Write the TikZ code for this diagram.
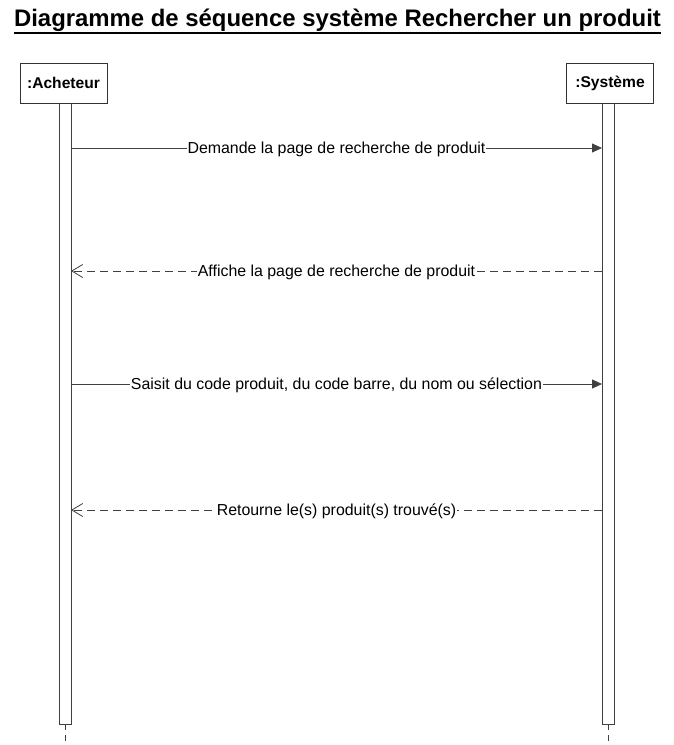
\documentclass[tikz,border=0pt]{standalone}
\usepackage{fontspec}
\setmainfont{Liberation Sans}
\usetikzlibrary{arrows.meta}
\tikzset{
  x=1pt,y=-1pt,
  linecol/.style={draw=black!75, line width=0.8pt},
  actor/.style={draw=black!80, line width=0.8pt, fill=white, minimum width=87pt, minimum height=40pt, inner sep=0pt, font=\fontsize{15.6}{18}\selectfont\bfseries},
  actbar/.style={draw=black!75, line width=0.8pt, fill=white},
  lifeln/.style={draw=black!75, line width=0.8pt, dash pattern=on 6pt off 5pt},
  syncmsg/.style={linecol, -{Triangle[length=10pt,width=9pt]}},
  retmsg/.style={linecol, dash pattern=on 8pt off 5pt, -{Straight Barb[length=11pt,width=13pt]}},
  msglbl/.style={fill=white, inner sep=1pt, yshift=-1.5pt, font=\fontsize{15.9}{18}\selectfont}
}
\begin{document}
\begin{tikzpicture}
\useasboundingbox (0,0) rectangle (674,745);
\fill[white] (0,0) rectangle (674,745);
\node[font=\fontsize{23.9}{28}\selectfont\bfseries, inner sep=0pt] (title) at (337.5,20) {Diagramme de séquence système Rechercher un produit};
\draw[line width=2pt] (title.west |- 0,33) -- (title.east |- 0,33);
% lifelines
\draw[lifeln] (65,724) -- (65,745);
\draw[lifeln] (608,724) -- (608,745);
\draw[actbar] (59,102) rectangle (71,724);
\draw[actbar] (602,102) rectangle (614,724);
\node[actor] (ach) at (63.5,83) {:Acheteur};
\node[actor] (sys) at (610,83) {:Système};
% anchor coordinates
\coordinate (a1) at (71,148); \coordinate (s1) at (602,148);
\coordinate (s2) at (602,271); \coordinate (a2) at (71,271);
\coordinate (a3) at (71,384); \coordinate (s3) at (602,384);
\coordinate (s4) at (602,510); \coordinate (a4) at (71,510);
\draw[syncmsg] (a1) -- node[msglbl] (m1) {Demande la page de recherche de produit} (s1);
\draw[retmsg] (s2) -- node[msglbl] (m2) {Affiche la page de recherche de produit} (a2);
\draw[syncmsg] (a3) -- node[msglbl] (m3) {Saisit du code produit, du code barre, du nom ou sélection} (s3);
\draw[retmsg] (s4) -- node[msglbl] (m4) {Retourne le(s) produit(s) trouvé(s)} (a4);
\end{tikzpicture}
\end{document}
